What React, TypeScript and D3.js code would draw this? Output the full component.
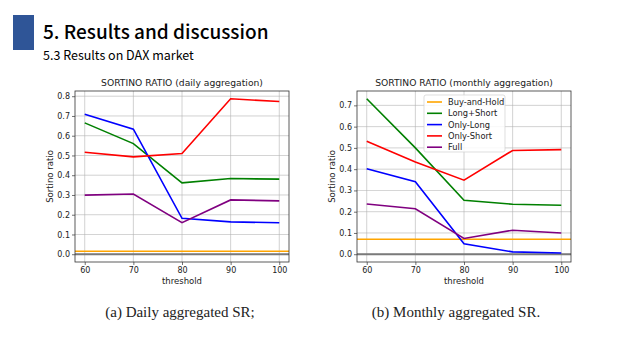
import React, { useEffect, useRef } from "react";
import * as d3 from "d3";

const thresholds = [60, 70, 80, 90, 100];
const seriesNames = ["Buy-and-Hold", "Long+Short", "Only-Long", "Only-Short", "Full"];
const seriesColors = ["orange", "green", "blue", "red", "purple"];

// daily aggregation
const dailyBuyHold = 0.015;
const dailyLongShort = [0.665, 0.56, 0.361, 0.383, 0.38];
const dailyOnlyLong = [0.709, 0.633, 0.182, 0.164, 0.159];
const dailyOnlyShort = [0.516, 0.493, 0.51, 0.787, 0.773];
const dailyFull = [0.299, 0.305, 0.16, 0.275, 0.27];
const dailyYTicks = [0, 0.1, 0.2, 0.3, 0.4, 0.5, 0.6, 0.7, 0.8];

// monthly aggregation
const monthlyBuyHold = 0.0705;
const monthlyLongShort = [0.731, 0.5, 0.254, 0.235, 0.23];
const monthlyOnlyLong = [0.402, 0.341, 0.049, 0.011, 0.006];
const monthlyOnlyShort = [0.531, 0.434, 0.348, 0.488, 0.492];
const monthlyFull = [0.236, 0.214, 0.074, 0.113, 0.1];
const monthlyYTicks = [0, 0.1, 0.2, 0.3, 0.4, 0.5, 0.6, 0.7];

const font = "'DejaVu Sans', sans-serif";

function drawChart(svgEl, opts) {
    const { left, top, width, height, title, buyHold, series, yTicks, legend } = opts;
    const svg = d3.select(svgEl).append("g").attr("transform", "translate(" + left + "," + top + ")");

    const allVals = series.flat().concat([0, buyHold]);
    const yMin = d3.min(allVals), yMax = d3.max(allVals);
    const pad = (yMax - yMin) * 0.05;
    const y = d3.scaleLinear().domain([yMin - pad, yMax + pad]).range([height, 0]);
    const x = d3.scaleLinear().domain([58, 102]).range([0, width]);

    // grid
    svg.append("g").selectAll("line").data(thresholds).join("line")
        .attr("x1", d => x(d)).attr("x2", d => x(d)).attr("y1", 0).attr("y2", height)
        .attr("stroke", "#b0b0b0").attr("stroke-width", 0.8).attr("opacity", 0.7);
    svg.append("g").selectAll("line").data(yTicks).join("line")
        .attr("y1", d => y(d)).attr("y2", d => y(d)).attr("x1", 0).attr("x2", width)
        .attr("stroke", "#b0b0b0").attr("stroke-width", 0.8).attr("opacity", 0.7);

    // zero line and buy-and-hold
    svg.append("line").attr("x1", 0).attr("x2", width).attr("y1", y(0)).attr("y2", y(0))
        .attr("stroke", "#7a7a7a").attr("stroke-width", 2);
    svg.append("line").attr("x1", 0).attr("x2", width).attr("y1", y(buyHold)).attr("y2", y(buyHold))
        .attr("stroke", seriesColors[0]).attr("stroke-width", 1.6);

    const line = d3.line().x((d, i) => x(thresholds[i])).y(d => y(d));
    series.forEach((s, i) => {
        svg.append("path").datum(s)
            .attr("fill", "none")
            .attr("stroke", seriesColors[i + 1])
            .attr("stroke-width", 1.6)
            .attr("d", line);
    });

    // axes
    const xAxis = svg.append("g").attr("transform", "translate(0," + height + ")")
        .call(d3.axisBottom(x).tickValues(thresholds).tickSize(3).tickPadding(2).tickSizeOuter(0));
    const yAxis = svg.append("g")
        .call(d3.axisLeft(y).tickValues(yTicks).tickFormat(d3.format(".1f")).tickSize(3).tickPadding(2).tickSizeOuter(0));
    [xAxis, yAxis].forEach(a => {
        a.select(".domain").remove();
        a.selectAll("text").attr("font-family", font).attr("font-size", 8).attr("fill", "#222");
        a.selectAll("line").attr("stroke", "#333").attr("stroke-width", 0.7);
    });

    svg.append("rect").attr("width", width).attr("height", height)
        .attr("fill", "none").attr("stroke", "#333").attr("stroke-width", 0.8);

    svg.append("text").attr("x", width / 2).attr("y", -5).attr("text-anchor", "middle")
        .attr("font-family", font).attr("font-size", 9.2).attr("fill", "#222").text(title);
    svg.append("text").attr("x", width / 2).attr("y", height + 22).attr("text-anchor", "middle")
        .attr("font-family", font).attr("font-size", 8.5).attr("fill", "#222").text("threshold");
    svg.append("text").attr("transform", "translate(" + (-22) + "," + (height / 2) + ") rotate(-90)")
        .attr("text-anchor", "middle")
        .attr("font-family", font).attr("font-size", 8.5).attr("fill", "#222").text("Sortino ratio");

    if (legend) {
        const lg = svg.append("g").attr("transform", "translate(" + legend.x + "," + legend.y + ")");
        lg.append("rect").attr("width", 81).attr("height", 57).attr("rx", 2)
            .attr("fill", "white").attr("fill-opacity", 0.85).attr("stroke", "#d0d0d0").attr("stroke-width", 0.7);
        seriesNames.forEach((n, i) => {
            const yy = 7 + i * 11.3;
            lg.append("line").attr("x1", 3).attr("x2", 18).attr("y1", yy).attr("y2", yy)
                .attr("stroke", seriesColors[i]).attr("stroke-width", 1.6);
            lg.append("text").attr("x", 24).attr("y", yy + 3).attr("font-family", font)
                .attr("font-size", 8.3).attr("fill", "#222").text(n);
        });
    }
}

function App() {
    const ref = useRef(null);

    useEffect(() => {
        const el = ref.current;
        d3.select(el).selectAll("*").remove();
        const s = d3.select(el);

        s.append("rect").attr("x", 13).attr("y", 15).attr("width", 21).attr("height", 35).attr("fill", "#2F5597");
        s.append("text").attr("x", 43).attr("y", 39).attr("font-family", "'Noto Sans CJK KR', sans-serif")
            .attr("font-weight", 500).attr("font-size", 19).attr("fill", "#000").text("5. Results and discussion");
        s.append("text").attr("x", 43).attr("y", 60).attr("font-family", "'Noto Sans CJK KR', sans-serif")
            .attr("font-weight", 400).attr("font-size", 12.5).attr("fill", "#000").text("5.3 Results on DAX market");

        drawChart(el, {
            left: 75, top: 91, width: 214, height: 171,
            title: "SORTINO RATIO (daily aggregation)",
            buyHold: dailyBuyHold,
            series: [dailyLongShort, dailyOnlyLong, dailyOnlyShort, dailyFull],
            yTicks: dailyYTicks,
            legend: null,
        });
        drawChart(el, {
            left: 357, top: 91, width: 214, height: 171,
            title: "SORTINO RATIO (monthly aggregation)",
            buyHold: monthlyBuyHold,
            series: [monthlyLongShort, monthlyOnlyLong, monthlyOnlyShort, monthlyFull],
            yTicks: monthlyYTicks,
            legend: { x: 67, y: 4 },
        });

        s.append("text").attr("x", 180).attr("y", 317).attr("text-anchor", "middle")
            .attr("font-family", "'Liberation Serif', serif").attr("font-size", 15).attr("fill", "#222")
            .text("(a) Daily aggregated SR;");
        s.append("text").attr("x", 456).attr("y", 317).attr("text-anchor", "middle")
            .attr("font-family", "'Liberation Serif', serif").attr("font-size", 15).attr("fill", "#222")
            .text("(b) Monthly aggregated SR.");
    }, []);

    return (
        <svg ref={ref} width={640} height={360} style={{ position: "absolute", left: 0, top: 0, background: "white" }} />
    );
}

export default App;
